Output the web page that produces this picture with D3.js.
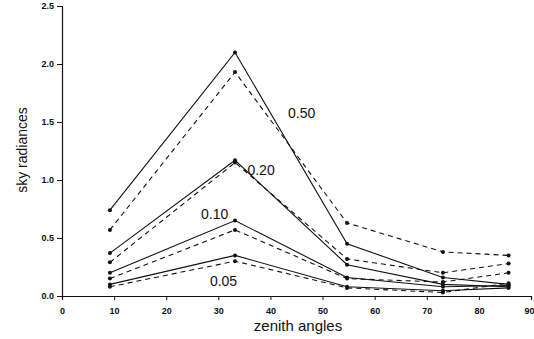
<!DOCTYPE html>
<html>
<head>
<meta charset="utf-8">
<script src="https://cdn.jsdelivr.net/npm/d3@7"></script>
<style>
  body { margin: 0; background: #fff; }
  text { font-family: "Liberation Sans", Arial, sans-serif; fill: #111; }
</style>
</head>
<body>
<div id="chart"></div>
<script>
// zenith angles where the radiances were sampled
const angles = [9.2, 33.2, 54.7, 73.1, 85.7];

// sky radiances per optical depth, solid = one model, dashed = the other
const solid050 = [0.74, 2.10, 0.45, 0.16, 0.10];
const dashed050 = [0.57, 1.93, 0.63, 0.38, 0.35];
const solid020 = [0.37, 1.17, 0.27, 0.10, 0.08];
const dashed020 = [0.29, 1.15, 0.32, 0.20, 0.28];
const solid010 = [0.20, 0.65, 0.16, 0.08, 0.09];
const dashed010 = [0.15, 0.57, 0.15, 0.12, 0.20];
const solid005 = [0.10, 0.35, 0.08, 0.045, 0.07];
const dashed005 = [0.08, 0.30, 0.07, 0.03, 0.11];

const xTicks = [0, 10, 20, 30, 40, 50, 60, 70, 80, 90];
const yTicks = [0, 0.5, 1.0, 1.5, 2.0, 2.5];

// labels placed next to the curves: [text, angle, radiance]
const depthLabels = [
  ["0.50", 46.0, 1.58],
  ["0.20", 38.2, 1.09],
  ["0.10", 29.3, 0.71],
  ["0.05", 31.0, 0.13]
];

const series = [
  {v: solid050, dash: null}, {v: dashed050, dash: "5,4"},
  {v: solid020, dash: null}, {v: dashed020, dash: "5,4"},
  {v: solid010, dash: null}, {v: dashed010, dash: "5,4"},
  {v: solid005, dash: null}, {v: dashed005, dash: "5,4"}
];

const width = 534, height = 339;

const x = d3.scaleLinear().domain([0, 90]).range([62, 531]);
const y = d3.scaleLinear().domain([0, 2.5]).range([296, 6]);

const svg = d3.select("#chart").append("svg")
  .attr("width", width)
  .attr("height", height);

const line = d3.line()
  .x((d, i) => x(angles[i]))
  .y(d => y(d));

// the curves
svg.selectAll("path.curve")
  .data(series)
  .join("path")
  .attr("class", "curve")
  .attr("d", d => line(d.v))
  .attr("fill", "none")
  .attr("stroke", "#111")
  .attr("stroke-width", 1.1)
  .attr("stroke-dasharray", d => d.dash);

// point markers
series.forEach(s => {
  svg.append("g")
    .selectAll("circle")
    .data(s.v)
    .join("circle")
    .attr("cx", (d, i) => x(angles[i]))
    .attr("cy", d => y(d))
    .attr("r", 2)
    .attr("fill", "#111");
});

// axes
const xAxis = d3.axisBottom(x).tickValues(xTicks).tickSize(4).tickFormat(d3.format("d"));
const yAxis = d3.axisLeft(y).tickValues(yTicks).tickSize(5).tickFormat(d3.format(".1f"));

const gx = svg.append("g")
  .attr("transform", `translate(0,${y(0)})`)
  .call(xAxis);
const gy = svg.append("g")
  .attr("transform", `translate(${x(0)},0)`)
  .call(yAxis);

[gx, gy].forEach(g => {
  g.select(".domain").attr("stroke", "#111").attr("stroke-width", 1.2);
  g.selectAll(".tick line").attr("stroke", "#111");
  g.selectAll(".tick text").attr("font-size", 9).attr("font-weight", "bold")
    .attr("font-family", "Liberation Sans, Arial, sans-serif").attr("fill", "#222");
});
gx.selectAll(".tick text").attr("dy", "1.2em");
// last label would run off the right edge, nudge it in
gx.selectAll(".tick text").filter(d => d === 90).attr("text-anchor", "end").attr("x", 3);

// axis titles
svg.append("text")
  .attr("x", 298)
  .attr("y", 331)
  .attr("text-anchor", "middle")
  .attr("font-size", 15)
  .text("zenith angles");

svg.append("text")
  .attr("transform", "translate(27,150) rotate(-90)")
  .attr("text-anchor", "middle")
  .attr("font-size", 14)
  .text("sky radiances");

// optical depth labels
svg.selectAll("text.depth")
  .data(depthLabels)
  .join("text")
  .attr("class", "depth")
  .attr("x", d => x(d[1]))
  .attr("y", d => y(d[2]))
  .attr("text-anchor", "middle")
  .attr("dominant-baseline", "central")
  .attr("font-size", 14)
  .text(d => d[0]);
</script>
</body>
</html>
